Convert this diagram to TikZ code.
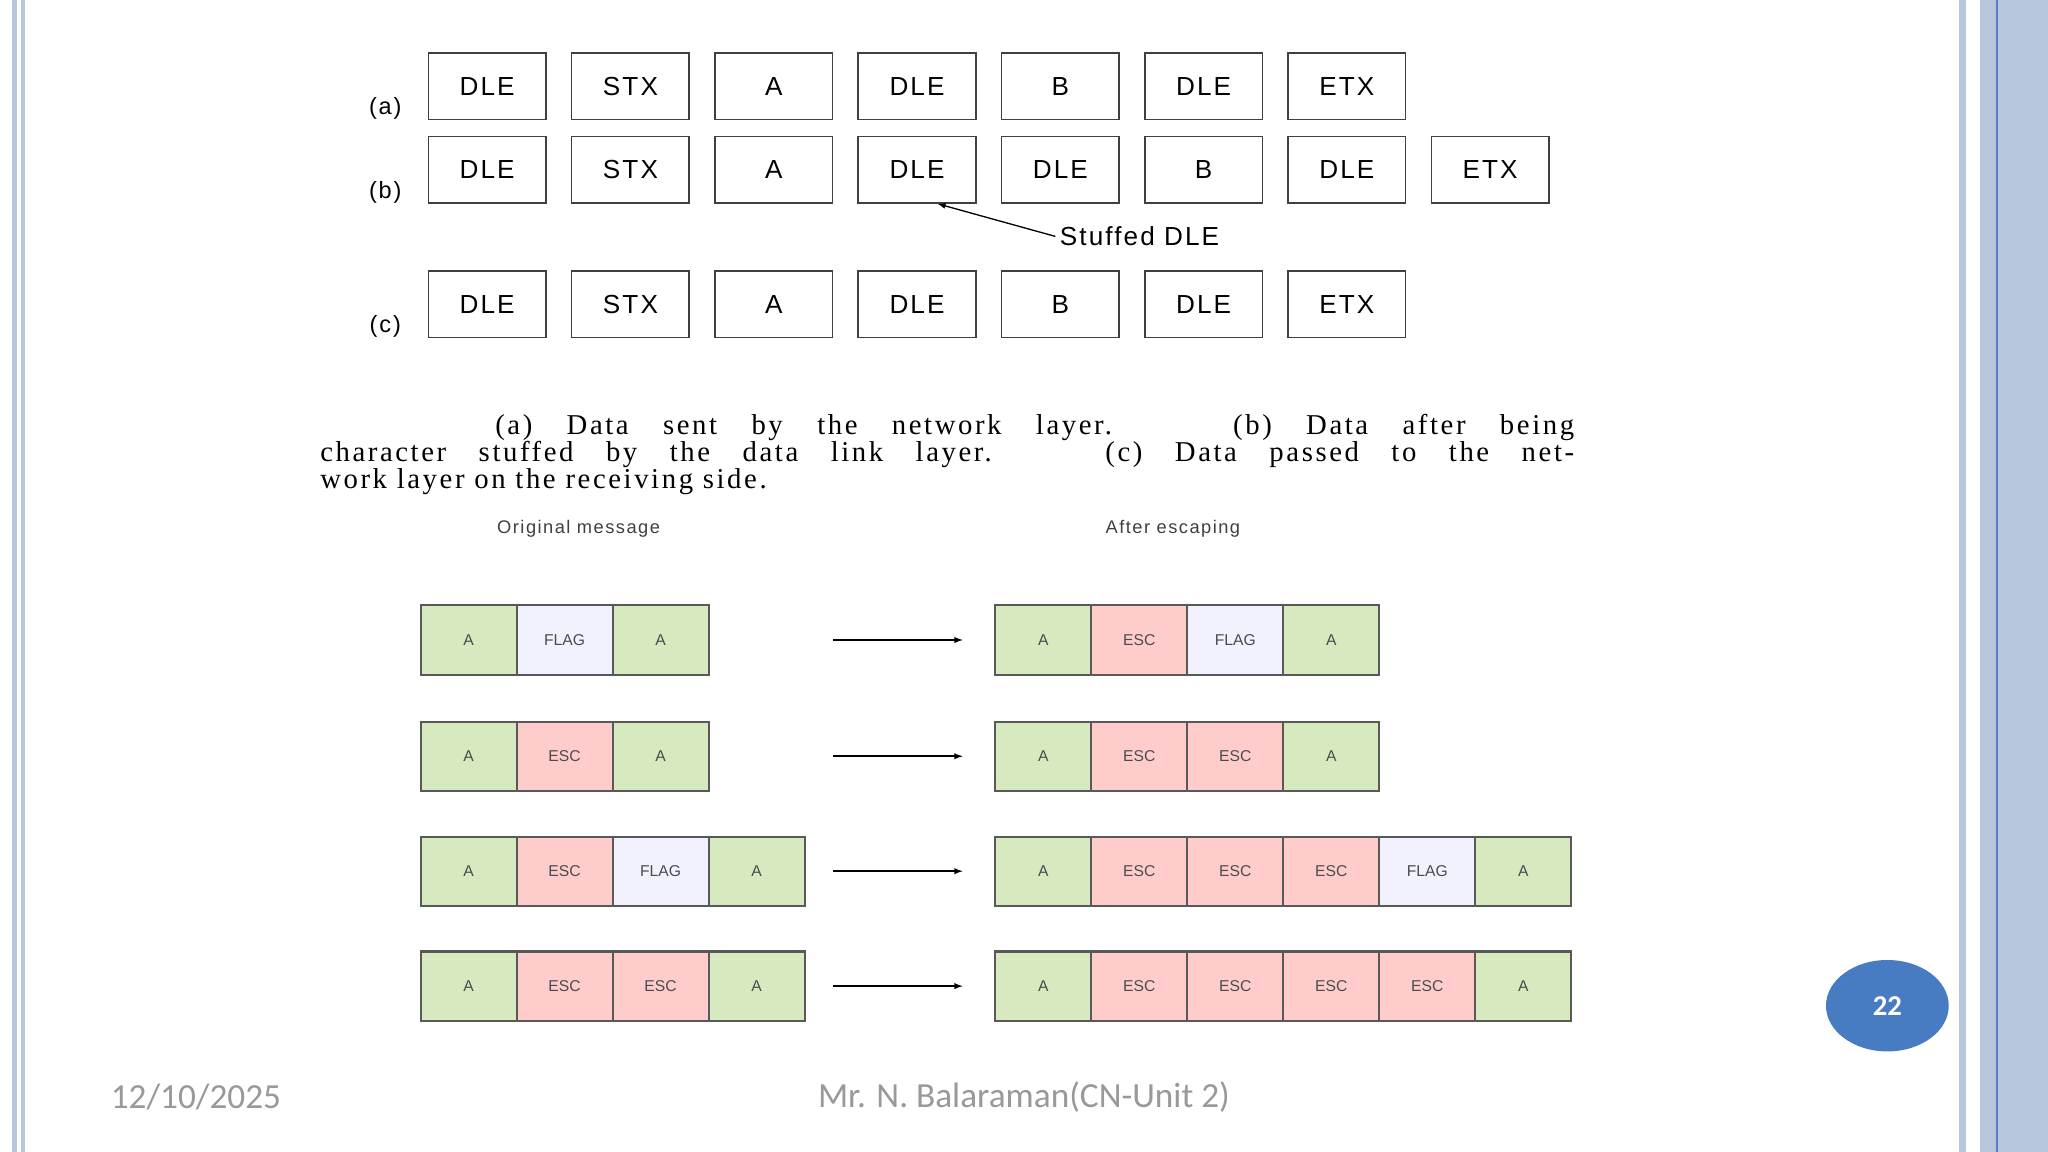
\documentclass[tikz,border=0pt]{standalone}
\usepackage{fontspec}
\usetikzlibrary{shapes.geometric}
\setmainfont{Liberation Sans}
\newfontfamily\serif{Liberation Serif}[LetterSpace=9]
\newfontfamily\widesans{Liberation Sans}[LetterSpace=8]
\newfontfamily\calfnt{Carlito}
\definecolor{bord}{RGB}{184,198,222}
\definecolor{bordd}{RGB}{90,125,190}
\definecolor{pgc}{RGB}{72,124,194}
\begin{document}
\begin{tikzpicture}[x=1pt,y=-1pt,
 box/.style={draw=black!75,line width=1.2pt,minimum width=90pt,minimum height=51pt,inner sep=0pt,font=\widesans\fontsize{20}{20}\selectfont},
 cell/.style={draw=black!65,line width=1.6pt,minimum width=73.5pt,minimum height=53pt,inner sep=0pt,font=\fontsize{12}{12}\selectfont,text=black!70},
 g/.style={cell,fill=green!30!olive!25!white},
 f/.style={cell,fill=blue!5!white},
 e/.style={cell,fill=red!20!white},
 lab/.style={font=\widesans\fontsize{18}{18}\selectfont},
 arr/.style={-latex,line width=1.2pt}]
\useasboundingbox (0,0) rectangle (1568,882);
\fill[white] (0,0) rectangle (1568,882);
% borders
\fill[bord] (9,0) rectangle (13,882);
\fill[bord] (16,0) rectangle (19,882);
\fill[bord] (1500,0) rectangle (1505,882);
\fill[bord] (1516,0) rectangle (1568,882);
\draw[bordd,line width=1pt] (1529,0) -- (1529,882);
% top rows
\foreach \t [count=\i] in {DLE,STX,A,DLE,B,DLE,ETX}
  \node[box] (a\i) at ({373+(\i-1)*109.7},66) {\t};
\foreach \t [count=\i] in {DLE,STX,A,DLE,DLE,B,DLE,ETX}
  \node[box] (b\i) at ({373+(\i-1)*109.7},130) {\t};
\foreach \t [count=\i] in {DLE,STX,A,DLE,B,DLE,ETX}
  \node[box] (c\i) at ({373+(\i-1)*109.7},233) {\t};
\node[lab] (la) at (295,83) {(a)};
\node[lab] (lb) at (295,147) {(b)};
\node[lab] (lc) at (295,250) {(c)};
\node[lab,anchor=west,font=\widesans\fontsize{20}{20}\selectfont] (st) at (808,181) {Stuffed DLE};
\draw[-latex,line width=1pt] (st.west) -- ([xshift=16pt]b4.south);
% caption
\node[anchor=north west,text width=960pt,align=justify,inner sep=0pt,font=\serif\fontsize{22}{20.5}\selectfont] (cap) at (245,317)
 {\hspace*{134pt}(a) Data sent by the network layer. \ (b) Data after being\linebreak character stuffed by the data link layer. \ (c) Data passed to the net-\linebreak work layer on the receiving side.};
\node[font=\widesans\fontsize{14}{14}\selectfont,text=black!75] (om) at (443,405) {Original message};
\node[font=\widesans\fontsize{14}{14}\selectfont,text=black!75] (ae) at (898,405) {After escaping};
% bottom rows
\def\row#1#2#3#4{%
  \foreach \s/\t [count=\i] in {#2}
    \node[\s] (L#1\i) at ({358.75+(\i-1)*73.5},#4) {\t};
  \foreach \s/\t [count=\i] in {#3}
    \node[\s] (R#1\i) at ({798.75+(\i-1)*73.5},#4) {\t};
  \coordinate (p#1) at (638,#4); \coordinate (q#1) at (737,#4);
  \draw[arr] (p#1) -- (q#1);}
\row{1}{g/A,f/FLAG,g/A}{g/A,e/ESC,f/FLAG,g/A}{490}
\row{2}{g/A,e/ESC,g/A}{g/A,e/ESC,e/ESC,g/A}{579}
\row{3}{g/A,e/ESC,f/FLAG,g/A}{g/A,e/ESC,e/ESC,e/ESC,f/FLAG,g/A}{667}
\row{4}{g/A,e/ESC,e/ESC,g/A}{g/A,e/ESC,e/ESC,e/ESC,e/ESC,g/A}{755}
% page number
\node[ellipse,fill=pgc,minimum width=94pt,minimum height=70pt,inner sep=0pt,text=white,font=\calfnt\bfseries\fontsize{22}{22}\selectfont] (pg) at (1445,770) {22};
\node[font=\calfnt\fontsize{27}{27}\selectfont,text=black!40] (dt) at (150,840) {12/10/2025};
\node[font=\calfnt\fontsize{27}{27}\selectfont,text=black!40] (au) at (784,840) {Mr. N. Balaraman(CN-Unit 2)};
\end{tikzpicture}
\end{document}
